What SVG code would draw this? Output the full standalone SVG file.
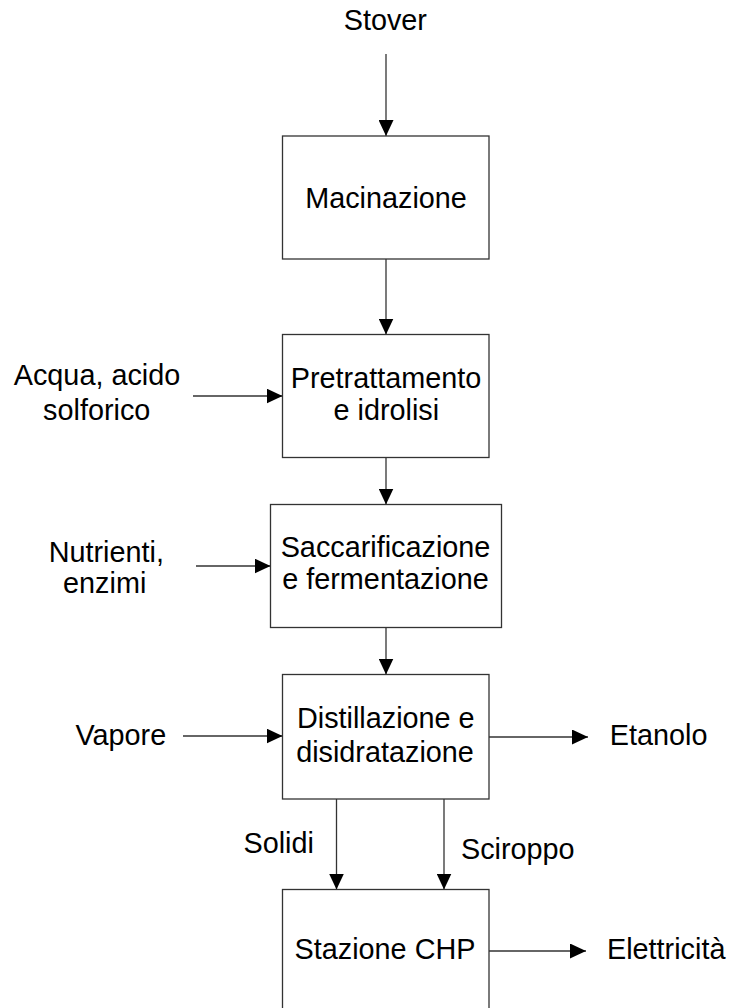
<svg xmlns="http://www.w3.org/2000/svg" width="729" height="1008" viewBox="0 0 729 1008">
<defs>
<style>
.box{fill:#fff;stroke:#333;stroke-width:1.3}
.ln{fill:none;stroke:#333;stroke-width:1.3;marker-end:url(#ah)}
text{font-family:"Liberation Sans",Arial,sans-serif;font-size:28.8px;fill:#000;text-anchor:middle}
</style>
<marker id="ah" markerUnits="userSpaceOnUse" markerWidth="16" markerHeight="15" refX="16" refY="7.5" orient="auto" viewBox="0 0 16 15">
<path d="M0,0 L16,7.5 L0,15 z" fill="#000"/>
</marker>
</defs>
<rect width="729" height="1008" fill="#fff"/>
<g id="connectors">
<line class="ln" x1="386" y1="54" x2="386" y2="136"/>
<line class="ln" x1="386" y1="259" x2="386" y2="334.5"/>
<line class="ln" x1="386" y1="457.5" x2="386" y2="504.5"/>
<line class="ln" x1="386" y1="627.5" x2="386" y2="674.5"/>
<line class="ln" x1="193" y1="396" x2="282.5" y2="396"/>
<line class="ln" x1="196" y1="566" x2="270.5" y2="566"/>
<line class="ln" x1="183" y1="736" x2="282.5" y2="736"/>
<line class="ln" x1="489" y1="737" x2="588" y2="737"/>
<line class="ln" x1="336.5" y1="799" x2="336.5" y2="889.5"/>
<line class="ln" x1="444" y1="799" x2="444" y2="889.5"/>
<line class="ln" x1="489" y1="951" x2="586" y2="951"/>
</g>
<g id="stover"><text x="385.3" y="30">Stover</text></g>
<g id="macinazione">
<rect class="box" x="282.5" y="136" width="206.5" height="123"/>
<text x="386" y="208.3">Macinazione</text>
</g>
<g id="pretrattamento">
<rect class="box" x="282.5" y="334.5" width="206.5" height="123"/>
<text x="386" y="388">Pretrattamento</text>
<text x="386.3" y="420">e idrolisi</text>
</g>
<g id="acqua">
<text x="97" y="385">Acqua, acido</text>
<text x="96.7" y="420">solforico</text>
</g>
<g id="saccarificazione">
<rect class="box" x="270.5" y="504.5" width="231" height="123"/>
<text x="385.5" y="557">Saccarificazione</text>
<text x="385.5" y="589">e fermentazione</text>
</g>
<g id="nutrienti">
<text x="106.3" y="561.7">Nutrienti,</text>
<text x="104.7" y="593.3">enzimi</text>
</g>
<g id="distillazione">
<rect class="box" x="282.5" y="674.5" width="206.5" height="124.5"/>
<text x="385.8" y="728.3">Distillazione e</text>
<text x="385" y="761.7">disidratazione</text>
</g>
<g id="vapore"><text x="120.8" y="745">Vapore</text></g>
<g id="etanolo"><text x="658.7" y="745">Etanolo</text></g>
<g id="solidi"><text x="278.7" y="852.7">Solidi</text></g>
<g id="sciroppo"><text x="517.8" y="859">Sciroppo</text></g>
<g id="chp">
<rect class="box" x="282.5" y="889.5" width="206.5" height="124"/>
<text x="385" y="959.3">Stazione CHP</text>
</g>
<g id="elettricita"><text x="666.2" y="959.3">Elettricità</text></g>
</svg>
